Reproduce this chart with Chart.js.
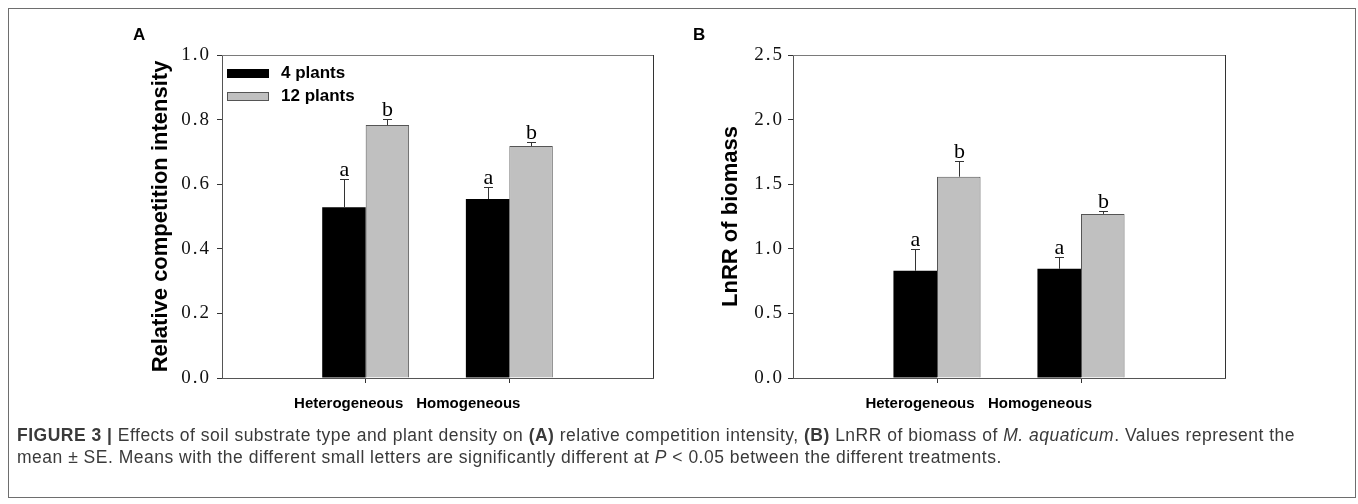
<!DOCTYPE html>
<html><head><meta charset="utf-8">
<script src="https://cdn.jsdelivr.net/npm/chart.js@4.4.0/dist/chart.umd.min.js"></script>
<style>
html,body{margin:0;padding:0;background:#fff;}
body{width:1358px;height:504px;position:relative;overflow:hidden;}
#frame{position:absolute;left:8px;top:8px;width:1348px;height:490px;border:1px solid #6e6e6e;box-sizing:border-box;}
canvas{position:absolute;top:0;}
#cA{left:0;}
#cB{left:680px;}
.panel{position:absolute;font:bold 17px "Liberation Sans",Arial,sans-serif;line-height:17px;color:#000;}
#caption{position:absolute;left:17px;top:424px;font-family:"Liberation Sans",Arial,sans-serif;font-size:17.5px;line-height:22px;color:#3a3a3a;white-space:nowrap;}
</style></head><body>
<div id="frame"></div>
<canvas id="cA" width="680" height="430"></canvas>
<canvas id="cB" width="678" height="430"></canvas>
<div class="panel" style="left:133px;top:26px;">A</div>
<div class="panel" style="left:693px;top:26px;">B</div>
<div id="caption"><span id="line1"><b>FIGURE 3 |</b> Effects of soil substrate type and plant density on <b>(A)</b> relative competition intensity, <b>(B)</b> LnRR of biomass of <i>M. aquaticum</i>. Values represent the</span><br><span id="line2">mean ± SE. Means with the different small letters are significantly different at <i>P</i> &lt; 0.05 between the different treatments.</span></div>
<script>
// ---- data ----
const categories = ['Heterogeneous', 'Homogeneous'];
const seriesNames = ['4 plants', '12 plants'];

const rciMean4 = [0.529, 0.554];
const rciSE4 = [0.087, 0.037];
const rciMean12 = [0.783, 0.718];
const rciSE12 = [0.019, 0.012];
const rciLetters4 = ['a', 'a'];
const rciLetters12 = ['b', 'b'];
const rciTickLabels = ['0.0', '0.2', '0.4', '0.6', '0.8', '1.0'];

const lnrrMean4 = [0.83, 0.845];
const lnrrSE4 = [0.17, 0.095];
const lnrrMean12 = [1.558, 1.27];
const lnrrSE12 = [0.125, 0.02];
const lnrrLetters4 = ['a', 'a'];
const lnrrLetters12 = ['b', 'b'];
const lnrrTickLabels = ['0.0', '0.5', '1.0', '1.5', '2.0', '2.5'];

// ---- helpers ----
const pad = a => [null, ...a, null];
const padLabels = ['', ...categories, ''];
const labelShift = [0, -17, -41, 0];

const spacingPlugin = {
  id: 'spacing',
  beforeDraw(chart) { chart.ctx.letterSpacing = '2px'; },
  beforeDatasetsDraw(chart) { chart.ctx.letterSpacing = '0px'; },
  afterDraw(chart) { chart.ctx.letterSpacing = '0px'; }
};

const errorPlugin = {
  id: 'errs',
  afterDatasetsDraw(chart) {
    const ctx = chart.ctx, y = chart.scales.y;
    chart.data.datasets.forEach((ds, di) => {
      const meta = chart.getDatasetMeta(di);
      meta.data.forEach((bar, i) => {
        const v = ds.data[i];
        if (v == null) return;
        const se = ds.se[i];
        const x = Math.round(bar.x) + 0.5;
        const yTop = Math.round(y.getPixelForValue(v + se)) + 0.5;
        const yBar = y.getPixelForValue(v);
        ctx.save();
        ctx.strokeStyle = '#333';
        ctx.lineWidth = 1;
        ctx.beginPath();
        ctx.moveTo(x, yBar);
        ctx.lineTo(x, yTop);
        ctx.moveTo(x - 4.5, yTop);
        ctx.lineTo(x + 4.5, yTop);
        ctx.stroke();
        ctx.fillStyle = '#000';
        ctx.font = '22px "Liberation Serif"';
        ctx.textAlign = 'center';
        ctx.textBaseline = 'alphabetic';
        ctx.fillText(ds.letters[i], x, yTop - 4);
        ctx.restore();
      });
    });
  }
};

const framePlugin = {
  id: 'frame',
  afterDraw(chart) {
    const {ctx, chartArea: a} = chart;
    ctx.save();
    ctx.letterSpacing = '0px';
    ctx.lineWidth = 1;
    ctx.strokeStyle = '#7a7a7a';
    ctx.beginPath();
    ctx.moveTo(Math.round(a.left), Math.round(a.top) + 0.5);
    ctx.lineTo(Math.round(a.right), Math.round(a.top) + 0.5);
    ctx.stroke();
    ctx.strokeStyle = '#333';
    ctx.beginPath();
    ctx.moveTo(Math.round(a.right) + 0.5, Math.round(a.top));
    ctx.lineTo(Math.round(a.right) + 0.5, Math.round(a.bottom));
    ctx.stroke();
    // category labels
    const xs = chart.scales.x;
    ctx.fillStyle = '#000';
    ctx.font = 'bold 15px "Liberation Sans"';
    ctx.textAlign = 'center';
    ctx.textBaseline = 'middle';
    chart.data.labels.forEach((lab, i) => {
      if (!lab) return;
      ctx.fillText(lab, xs.getPixelForValue(i) + labelShift[i], 404);
    });
    // y axis title
    const t = chart.options.plugins.yTitle;
    ctx.save();
    ctx.translate(t.x, (a.top + a.bottom) / 2);
    ctx.rotate(-Math.PI / 2);
    ctx.font = 'bold 22px "Liberation Sans"';
    ctx.fillText(t.text, 0, 0);
    ctx.restore();
    ctx.restore();
  }
};

const legendPlugin = {
  id: 'boxLegend',
  afterDraw(chart) {
    if (!chart.options.plugins.boxLegend || !chart.options.plugins.boxLegend.show) return;
    const {ctx, chartArea: a} = chart;
    ctx.save();
    ctx.letterSpacing = '0px';
    ctx.font = 'bold 17px "Liberation Sans"';
    ctx.textBaseline = 'middle';
    ctx.textAlign = 'left';
    chart.data.datasets.forEach((ds, i) => {
      const top = a.top + 14 + i * 23;
      ctx.fillStyle = ds.backgroundColor;
      ctx.fillRect(a.left + 5, top, 42, 9);
      if (ds.borderWidth) {
        ctx.strokeStyle = ds.borderColor;
        ctx.lineWidth = 1;
        ctx.strokeRect(a.left + 5.5, top + 0.5, 41, 8);
      }
      ctx.fillStyle = '#000';
      ctx.fillText(ds.label, a.left + 59, top + 4.5);
    });
    ctx.restore();
  }
};

function makeChart(id, cfg) {
  return new Chart(document.getElementById(id), {
    type: 'bar',
    data: {
      labels: padLabels,
      datasets: [
        {label: seriesNames[0], data: pad(cfg.m4), se: pad(cfg.s4), letters: pad(cfg.l4),
         backgroundColor: '#000000', borderWidth: 0},
        {label: seriesNames[1], data: pad(cfg.m12), se: pad(cfg.s12), letters: pad(cfg.l12),
         backgroundColor: '#c0c0c0', borderColor: '#555555', borderWidth: 1}
      ]
    },
    options: {
      responsive: false,
      animation: false,
      layout: {padding: {left: cfg.padLeft, top: 55, right: cfg.padRight, bottom: 42}},
      plugins: {legend: {display: false}, tooltip: {enabled: false},
                boxLegend: {show: cfg.legend}, yTitle: {text: cfg.title, x: cfg.titleX}},
      datasets: {bar: {barPercentage: 1, categoryPercentage: 0.605}},
      scales: {
        x: {
          type: 'category', offset: false,
          grid: {display: true, offset: false, drawOnChartArea: false, drawTicks: true, tickLength: 5,
                 color: c => (c.index === 1 || c.index === 2) ? '#333' : 'rgba(0,0,0,0)'},
          border: {display: true, color: '#555', width: 1},
          ticks: {display: false},
          afterFit(s) { s.height = 10; }
        },
        y: {
          min: 0, max: cfg.max,
          ticks: {stepSize: cfg.step, callback: (v, i) => cfg.tickLabels[i],
                  font: {family: 'Liberation Serif', size: 19}, color: '#111', padding: cfg.tickPad},
          grid: {display: true, drawOnChartArea: false, tickLength: 5, color: '#333'},
          border: {display: true, color: '#555', width: 1},
          title: {display: false},
          afterFit(s) { s.width = cfg.axisWidth; }
        }
      }
    },
    plugins: [spacingPlugin, errorPlugin, framePlugin, legendPlugin]
  });
}

makeChart('cA', {m4: rciMean4, s4: rciSE4, l4: rciLetters4, m12: rciMean12, s12: rciSE12, l12: rciLetters12,
  max: 1.0, step: 0.2, tickLabels: rciTickLabels, title: 'Relative competition intensity', titleX: 161,
  padLeft: 148, padRight: 27, axisWidth: 74, tickPad: 6, legend: true});
makeChart('cB', {m4: lnrrMean4, s4: lnrrSE4, l4: lnrrLetters4, m12: lnrrMean12, s12: lnrrSE12, l12: lnrrLetters12,
  max: 2.5, step: 0.5, tickLabels: lnrrTickLabels, title: 'LnRR of biomass', titleX: 51,
  padLeft: 38, padRight: 133, axisWidth: 75, tickPad: 4, legend: false});

// fit caption line width to the reference
const l1 = document.getElementById('line1');
const w = l1.getBoundingClientRect().width;
const n = l1.textContent.length;
document.getElementById('caption').style.letterSpacing = ((1278 - w) / n).toFixed(3) + 'px';
</script>
</body></html>
